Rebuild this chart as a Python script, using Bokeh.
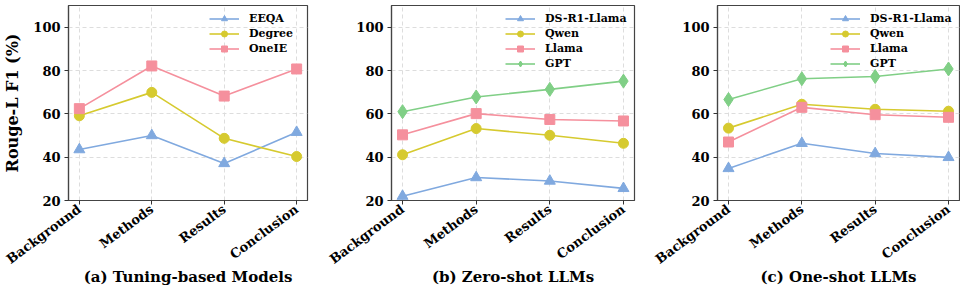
from bokeh.plotting import figure
from bokeh.layouts import row
from bokeh.models import Range1d, FixedTicker
from bokeh.embed import file_html
from bokeh.resources import INLINE

# ---------------- data ----------------
sections = ["Background", "Methods", "Results", "Conclusion"]
y_ticks = [20, 40, 60, 80, 100]

# (a) Tuning-based Models
eeqa = [43.5, 50.0, 37.1, 51.5]
degree = [59.1, 69.9, 48.7, 40.3]
oneie = [62.4, 82.1, 68.2, 80.7]

# (b) Zero-shot LLMs
zs_ds = [22.0, 30.6, 29.0, 25.6]
zs_qwen = [41.1, 53.2, 50.1, 46.4]
zs_llama = [50.3, 60.1, 57.4, 56.7]
zs_gpt = [61.0, 67.8, 71.3, 75.1]

# (c) One-shot LLMs
os_ds = [34.8, 46.4, 41.7, 39.9]
os_qwen = [53.4, 64.4, 62.1, 61.2]
os_llama = [47.0, 63.0, 59.6, 58.4]
os_gpt = [66.6, 76.2, 77.2, 80.7]

# ---------------- style ----------------
BLUE = "#80a9df"
YELLOW = "#d6ca2f"
PINK = "#f5909d"
GREEN = "#80cf86"
FONT = "DejaVu Serif"

x = list(range(len(sections)))


def make_panel(series, caption, width, bl, br, label_width, ylabel=None):
    p = figure(width=width, height=288, output_backend="svg", toolbar_location=None,
               x_range=Range1d(-0.15, 3.15), y_range=Range1d(20, 110),
               min_border_left=bl, min_border_right=br, min_border_top=5,
               min_border_bottom=0)
    p.background_fill_color = "white"
    p.border_fill_color = "white"
    p.outline_line_color = "#444444"
    p.outline_line_width = 1.2

    for label, vals, color, marker, size in series:
        p.line(x, vals, line_color=color, line_width=1.6, legend_label=label)
        p.scatter(x, vals, marker=marker, size=size, fill_color=color,
                  line_color=color, legend_label=label)

    p.xaxis.ticker = FixedTicker(ticks=x)
    p.xaxis.major_label_overrides = {i: s for i, s in enumerate(sections)}
    p.xaxis.major_label_orientation = 0.64
    p.yaxis.ticker = FixedTicker(ticks=y_ticks)

    for ax in (p.xaxis[0], p.yaxis[0]):
        ax.major_label_text_font = FONT
        ax.major_label_text_font_style = "bold"
        ax.major_label_text_font_size = "13px"
        ax.major_label_text_color = "black"
        ax.major_tick_in = 0
        ax.major_tick_out = 4
        ax.major_tick_line_color = "#333333"
        ax.minor_tick_line_color = None
        ax.axis_line_color = "#444444"
        ax.axis_line_width = 1.2
        ax.major_label_standoff = 4
    p.xaxis.major_label_standoff = 3

    p.xaxis.axis_label = caption
    p.xaxis.axis_label_text_font = FONT
    p.xaxis.axis_label_text_font_style = "bold"
    p.xaxis.axis_label_text_font_size = "15px"
    p.xaxis.axis_label_text_color = "black"
    p.xaxis.axis_label_standoff = -8

    if ylabel:
        p.yaxis.axis_label = ylabel
        p.yaxis.axis_label_text_font = FONT
        p.yaxis.axis_label_text_font_style = "bold"
        p.yaxis.axis_label_text_font_size = "16px"
        p.yaxis.axis_label_text_color = "black"
        p.yaxis.axis_label_standoff = 8

    for g in (p.xgrid[0], p.ygrid[0]):
        g.grid_line_color = "#dddddd"
        g.grid_line_dash = "4 3"
        g.grid_line_width = 1

    lg = p.legend[0]
    lg.location = "top_right"
    lg.margin = 6
    lg.padding = 0
    lg.spacing = 0
    lg.border_line_alpha = 0
    lg.background_fill_alpha = 0
    lg.glyph_width = 30
    lg.glyph_height = 15
    lg.label_height = 15
    lg.label_width = label_width
    lg.label_standoff = 10
    lg.label_text_font = FONT
    lg.label_text_font_style = "bold"
    lg.label_text_font_size = "11px"
    lg.label_text_color = "black"
    return p


pa = make_panel([
    ("EEQA", eeqa, BLUE, "triangle", 11),
    ("Degree", degree, YELLOW, "circle", 10),
    ("OneIE", oneie, PINK, "square", 10),
], "(a) Tuning-based Models", 326, 65, 19, 52, ylabel="Rouge-L F1 (%)")

pb = make_panel([
    ("DS-R1-Llama", zs_ds, BLUE, "triangle", 11),
    ("Qwen", zs_qwen, YELLOW, "circle", 10),
    ("Llama", zs_llama, PINK, "square", 10),
    ("GPT", zs_gpt, GREEN, "diamond", 14),
], "(b) Zero-shot LLMs", 326, 65, 18, 83)

pc = make_panel([
    ("DS-R1-Llama", os_ds, BLUE, "triangle", 11),
    ("Qwen", os_qwen, YELLOW, "circle", 10),
    ("Llama", os_llama, PINK, "square", 10),
    ("GPT", os_gpt, GREEN, "diamond", 14),
], "(c) One-shot LLMs", 308, 65, 1, 83)

layout = row(pa, pb, pc)
open("out.html", "w").write(file_html(layout, INLINE))
